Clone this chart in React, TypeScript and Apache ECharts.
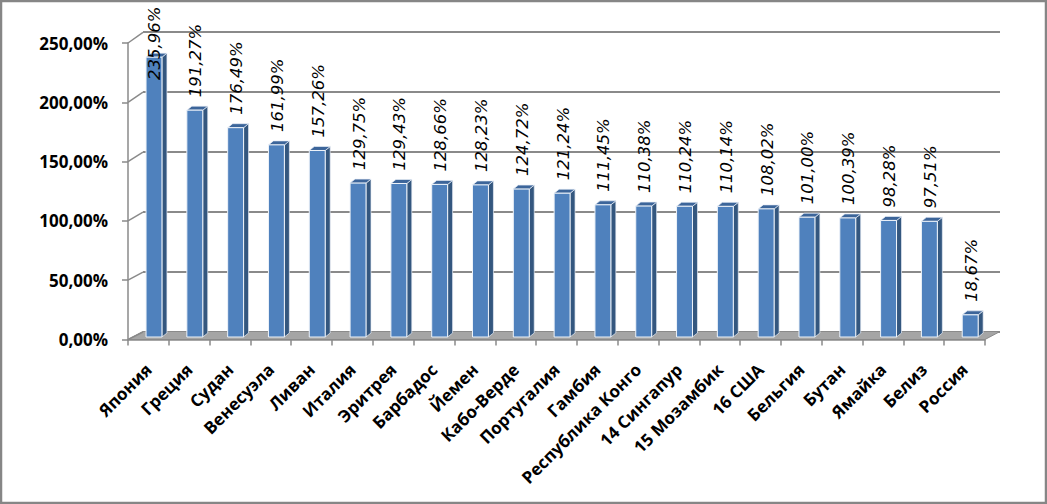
import React, { useEffect, useRef } from "react";
import * as echarts from "echarts";

const categories = [
  "Япония", "Греция", "Судан", "Венесуэла", "Ливан", "Италия", "Эритрея",
  "Барбадос", "Йемен", "Кабо-Верде", "Португалия", "Гамбия", "Республика Конго",
  "14 Сингапур", "15 Мозамбик", "16 США", "Бельгия", "Бутан", "Ямайка", "Белиз", "Россия",
];
const values = [
  235.96, 191.27, 176.49, 161.99, 157.26, 129.75, 129.43, 128.66, 128.23, 124.72,
  121.24, 111.45, 110.38, 110.24, 110.14, 108.02, 101.0, 100.39, 98.28, 97.51, 18.67,
];
const yTicks = [0, 50, 100, 150, 200, 250];

const fmt = (v: number) => v.toFixed(2).replace(".", ",") + "%";

const DEPTH_X = 15;
const GRID_COLOR = "#8a8a8a";

export default function App() {
  const ref = useRef<HTMLDivElement>(null);
  useEffect(() => {
    if (!ref.current) return;
    const chart = echarts.init(ref.current, undefined, { renderer: "svg" });
    const barData = values.map((v, i) => [i, v]);

    chart.setOption({
      animation: false,
      backgroundColor: "#ffffff",
      graphic: [
        {
          type: "rect",
          z: 100,
          shape: { x: 1, y: 1, width: 1045, height: 502 },
          style: { fill: "none", stroke: "#868686", lineWidth: 2.5 },
        },
      ],
      grid: [
        { left: 128, top: 43, width: 857, height: 296.5 },
        { left: 143, top: 32, width: 857, height: 300 },
      ],
      xAxis: [
        {
          type: "category",
          gridIndex: 0,
          data: categories,
          boundaryGap: true,
          axisLine: { show: true, lineStyle: { color: GRID_COLOR, width: 1.5 } },
          axisTick: { show: true, inside: false, length: 6, interval: 0, lineStyle: { color: GRID_COLOR, width: 1.5 } },
          axisLabel: {
            interval: 0,
            rotate: 45,
            margin: 27,
            color: "#000",
            fontFamily: "Open Sans",
            fontWeight: "bold",
            fontSize: 17,
          },
          splitLine: { show: false },
        },
        {
          type: "category",
          gridIndex: 1,
          data: categories,
          show: false,
        },
      ],
      yAxis: [
        {
          type: "value",
          gridIndex: 0,
          min: 0,
          max: 250,
          interval: 50,
          axisLine: { show: true, lineStyle: { color: GRID_COLOR, width: 1.5 } },
          axisTick: { show: true, inside: false, length: 6, lineStyle: { color: GRID_COLOR, width: 1.5 } },
          axisLabel: {
            formatter: (v: number) => fmt(v),
            margin: 20,
            color: "#000",
            fontFamily: "Open Sans",
            fontWeight: "bold",
            fontSize: 17,
          },
          splitLine: { show: false },
        },
        {
          type: "value",
          gridIndex: 1,
          min: 0,
          max: 250,
          interval: 50,
          axisLine: { show: false },
          axisTick: { show: false },
          axisLabel: { show: false },
          splitLine: { show: true, lineStyle: { color: GRID_COLOR, width: 2 } },
        },
      ],
      series: [
        {
          type: "custom",
          xAxisIndex: 0,
          yAxisIndex: 0,
          z: 1,
          silent: true,
          data: [[0, 0]],
          renderItem: (params: any, api: any) => {
            const cs = params.coordSys;
            const x0 = cs.x;
            const x1 = cs.x + cs.width;
            const yb = api.coord([0, 0])[1];
            return {
              type: "polygon",
              shape: {
                points: [
                  [x0, yb],
                  [x1, yb],
                  [x1 + DEPTH_X, yb - 8],
                  [x0 + DEPTH_X, yb - 8],
                ],
              },
              style: { fill: "#a5a5a5", stroke: "#8a8a8a", lineWidth: 1 },
            };
          },
        },
        {
          type: "custom",
          xAxisIndex: 0,
          yAxisIndex: 0,
          z: 2,
          silent: true,
          data: yTicks.map((t) => [0, t]),
          renderItem: (params: any, api: any) => {
            const cs = params.coordSys;
            const v = api.value(1);
            const y = api.coord([0, v])[1];
            const dy = 7.5 + (3.2 * v) / 250;
            return {
              type: "line",
              shape: { x1: cs.x, y1: y, x2: cs.x + DEPTH_X, y2: y - dy },
              style: { stroke: GRID_COLOR, lineWidth: 1.5 },
            };
          },
        },
        {
          type: "custom",
          xAxisIndex: 0,
          yAxisIndex: 0,
          z: 5,
          data: barData,
          renderItem: (params: any, api: any) => {
            const i = api.value(0);
            const v = api.value(1);
            const band = api.size([1, 0])[0];
            const c = api.coord([i, 0]);
            const t = api.coord([i, v]);
            const w = band * 0.39;
            const l = c[0] + band * 0.137 - w / 2;
            const r = l + w;
            const base = c[1] - 2.5;
            const top = t[1] - 2.5;
            const sx = 5;
            const sy = 4;
            let labelY = top - 13;
            if (labelY < 80) labelY = 80;
            return {
              type: "group",
              children: [
                {
                  type: "polygon",
                  shape: { points: [[r, top], [r + sx, top - sy], [r + sx, base - sy], [r, base]] },
                  style: { fill: "#34577f", stroke: "#e8eef6", lineWidth: 0.7 },
                },
                {
                  type: "polygon",
                  shape: { points: [[l, top], [l + sx, top - sy], [r + sx, top - sy], [r, top]] },
                  style: { fill: "#3c659a", stroke: "#e8eef6", lineWidth: 0.7 },
                },
                {
                  type: "rect",
                  shape: { x: l, y: top, width: w, height: base - top },
                  style: { fill: "#4f81bd", stroke: "#eef3f9", lineWidth: 1 },
                },
                {
                  type: "text",
                  x: (l + r) / 2 + 1,
                  y: labelY,
                  rotation: Math.PI / 2,
                  style: {
                    text: fmt(v),
                    fill: "#000",
                    font: "italic 16.5px 'DejaVu Sans'",
                    textAlign: "left",
                    textVerticalAlign: "middle",
                    align: "left",
                    verticalAlign: "middle",
                  },
                },
              ],
            };
          },
        },
      ],
    });
    return () => chart.dispose();
  }, []);

  return (
    <div
      ref={ref}
      style={{ position: "absolute", left: 0, top: 0, width: 1047, height: 504 }}
    />
  );
}
